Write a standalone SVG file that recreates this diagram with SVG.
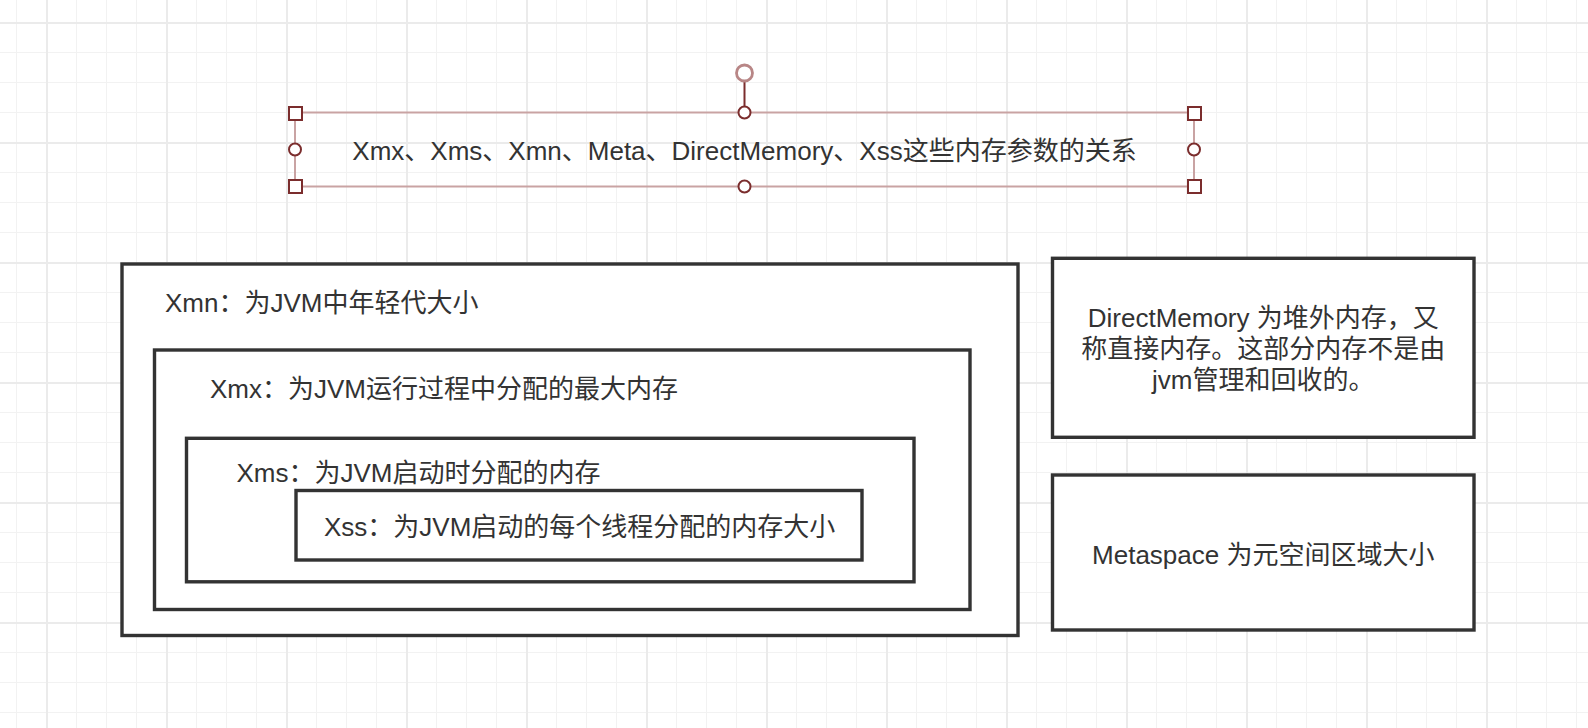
<svg xmlns="http://www.w3.org/2000/svg" width="1588" height="728" viewBox="0 0 1588 728">
  <defs>
    <pattern id="grid" patternUnits="userSpaceOnUse" x="-74" y="-98" width="120" height="120">
      <rect x="0" y="0" width="120" height="120" fill="#ffffff"/>
      <rect x="30" y="0" width="1" height="120" fill="#f2f2f2"/>
      <rect x="60" y="0" width="1" height="120" fill="#f2f2f2"/>
      <rect x="90" y="0" width="1" height="120" fill="#f2f2f2"/>
      <rect x="0" y="30" width="120" height="1" fill="#f2f2f2"/>
      <rect x="0" y="60" width="120" height="1" fill="#f2f2f2"/>
      <rect x="0" y="90" width="120" height="1" fill="#f2f2f2"/>
      <rect x="0" y="0" width="2" height="120" fill="#ebebeb"/>
      <rect x="0" y="0" width="120" height="2" fill="#ebebeb"/>
    </pattern>
  </defs>
  <style>
    .box { fill: #ffffff; stroke: #333333; stroke-width: 3.4; }
    .txt { font-family: "Liberation Sans", "Noto Sans CJK SC", sans-serif; font-size: 26px; fill: #333333; }
    .mid { text-anchor: middle; }
    .sel { fill: none; stroke: #c9a3a3; stroke-width: 2; }
    .hsq { fill: #ffffff; stroke: #7b2d2d; stroke-width: 2; }
    .hci { fill: #ffffff; stroke: #7b2d2d; stroke-width: 2; }
  </style>
  <rect x="0" y="0" width="1588" height="728" fill="url(#grid)"/>

  <g id="title">
    <rect class="sel" x="295" y="112.5" width="899" height="74"/>
    <line x1="744.5" y1="81" x2="744.5" y2="106" stroke="#7b2d2d" stroke-width="2"/>
    <circle cx="744.5" cy="73" r="8" fill="#ffffff" stroke="#b88686" stroke-width="2.8"/>
    <text class="txt mid" x="744.5" y="160">Xmx、Xms、Xmn、Meta、DirectMemory、Xss这些内存参数的关系</text>
    <rect class="hsq" x="289" y="107" width="13" height="13"/>
    <rect class="hsq" x="1188" y="107" width="13" height="13"/>
    <rect class="hsq" x="289" y="180" width="13" height="13"/>
    <rect class="hsq" x="1188" y="180" width="13" height="13"/>
    <circle class="hci" cx="295" cy="149.5" r="6"/>
    <circle class="hci" cx="1194" cy="149.5" r="6"/>
    <circle class="hci" cx="744.5" cy="112.5" r="6"/>
    <circle class="hci" cx="744.5" cy="186.5" r="6"/>
  </g>

  <g id="xmn">
    <rect class="box" x="122" y="264" width="896" height="371.5"/>
    <text class="txt" x="165" y="312">Xmn：为JVM中年轻代大小</text>
  </g>
  <g id="xmx">
    <rect class="box" x="154.5" y="350" width="815.5" height="259.5"/>
    <text class="txt" x="210" y="398">Xmx：为JVM运行过程中分配的最大内存</text>
  </g>
  <g id="xms">
    <rect class="box" x="186.5" y="438.3" width="727.5" height="143.5"/>
    <text class="txt" x="236.5" y="482">Xms：为JVM启动时分配的内存</text>
  </g>
  <g id="xss">
    <rect class="box" x="296" y="490.5" width="566" height="69.5"/>
    <text class="txt" x="324" y="536">Xss：为JVM启动的每个线程分配的内存大小</text>
  </g>
  <g id="directmemory">
    <rect class="box" x="1052.5" y="258.3" width="421.5" height="179"/>
    <text class="txt mid" x="1263.25" y="327">DirectMemory 为堆外内存，又</text>
    <text class="txt mid" x="1263.25" y="358">称直接内存。这部分内存不是由</text>
    <text class="txt mid" x="1263.25" y="389">jvm管理和回收的。</text>
  </g>
  <g id="metaspace">
    <rect class="box" x="1052.5" y="475" width="421.5" height="155"/>
    <text class="txt mid" x="1263.25" y="564">Metaspace 为元空间区域大小</text>
  </g>
  <g id="connectors"></g>
</svg>
